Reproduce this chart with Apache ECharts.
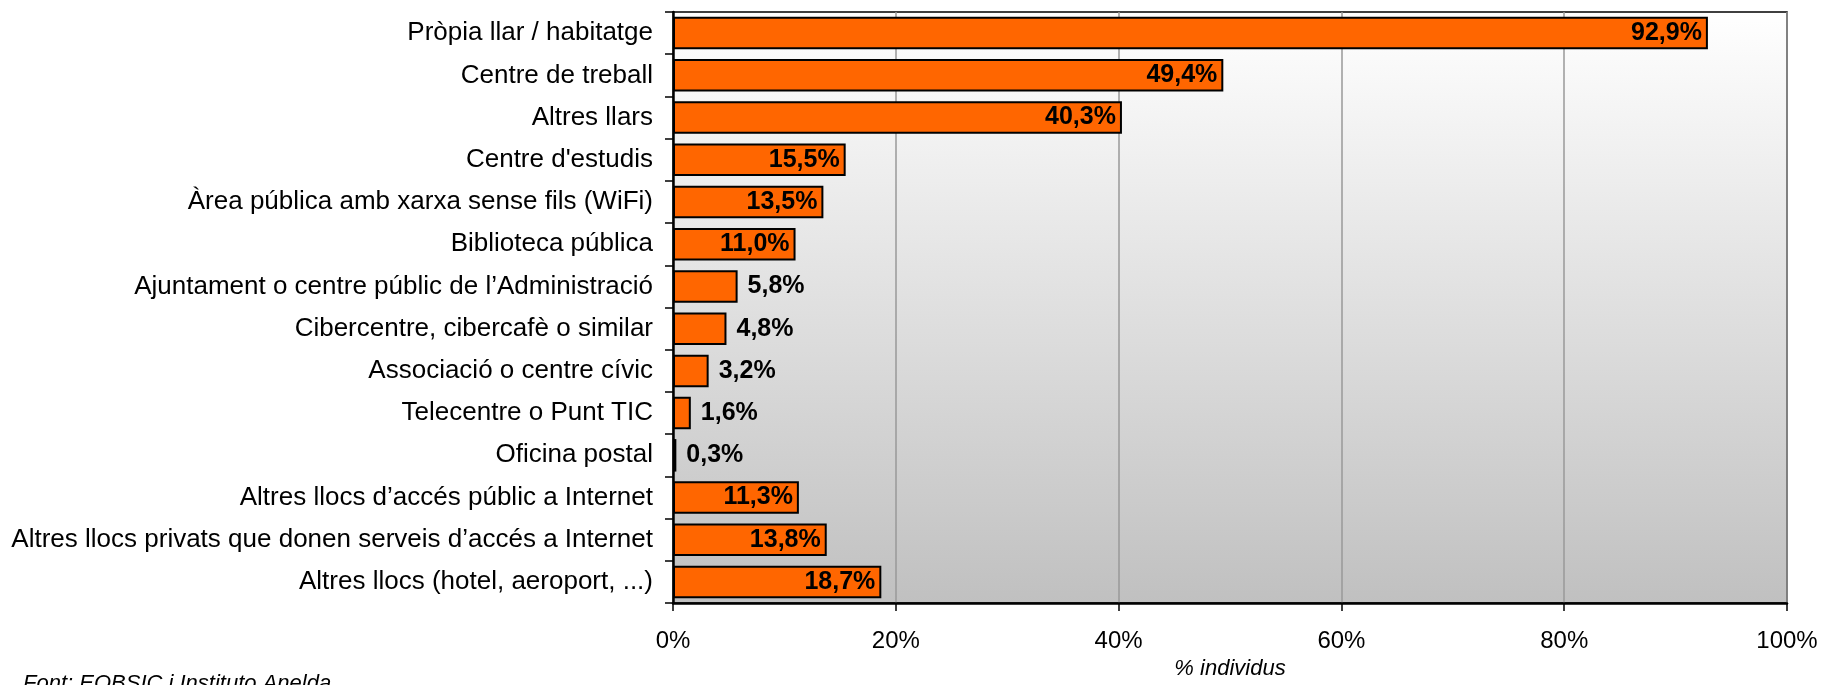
<!DOCTYPE html>
<html>
<head>
<meta charset="utf-8">
<script src="https://cdn.jsdelivr.net/npm/echarts@6/dist/echarts.min.js"></script>
<style>
  html, body { margin: 0; padding: 0; background: #fff; }
  #chart { width: 1823px; height: 685px; }
</style>
</head>
<body>
<div id="chart"></div>
<script>
// categories, top to bottom as in the picture
const categories = [
  'Pròpia llar / habitatge',
  'Centre de treball',
  'Altres llars',
  "Centre d'estudis",
  'Àrea pública amb xarxa sense fils (WiFi)',
  'Biblioteca pública',
  'Ajuntament o centre públic de l’Administració',
  'Cibercentre, cibercafè o similar',
  'Associació o centre cívic',
  'Telecentre o Punt TIC',
  'Oficina postal',
  'Altres llocs d’accés públic a Internet',
  'Altres llocs privats que donen serveis d’accés a Internet',
  'Altres llocs (hotel, aeroport, ...)'
];
const values = [92.9, 49.4, 40.3, 15.5, 13.5, 11.0, 5.8, 4.8, 3.2, 1.6, 0.3, 11.3, 13.8, 18.7];
const xTicks = [0, 20, 40, 60, 80, 100];

const FONT = '"Liberation Sans", Arial, sans-serif';

const chart = echarts.init(document.getElementById('chart'));

// label inside the bar when it fits, else to the right
const barData = values.map(function (v) {
  const inside = v >= 10;
  return {
    value: v,
    label: {
      position: inside ? 'insideRight' : 'right',
      distance: inside ? 6 : 10
    }
  };
});

const option = {
  animation: false,
  grid: {
    left: 673,
    right: 36,
    top: 12,
    bottom: 64,
    show: true,
    borderColor: '#000',
    borderWidth: 1.5,
    backgroundColor: new echarts.graphic.LinearGradient(0, 0, 0, 1, [
      { offset: 0, color: '#ffffff' },
      { offset: 1, color: '#c0c0c0' }
    ])
  },
  xAxis: {
    type: 'value',
    min: xTicks[0],
    max: xTicks[xTicks.length - 1],
    interval: 20,
    name: '% individus',
    nameLocation: 'middle',
    nameGap: 47,
    nameTextStyle: { fontFamily: FONT, fontSize: 22, fontStyle: 'italic', color: '#000' },
    axisLine: { show: true, lineStyle: { color: '#000', width: 2.5 } },
    axisTick: { show: true, length: 8, lineStyle: { color: '#000', width: 1.5 } },
    axisLabel: {
      margin: 26,
      fontFamily: FONT,
      fontSize: 24,
      color: '#000',
      formatter: '{value}%'
    },
    splitLine: { show: true, lineStyle: { color: '#999', width: 1.5 } }
  },
  yAxis: {
    type: 'category',
    inverse: true,
    data: categories,
    axisLine: { show: true, lineStyle: { color: '#000', width: 2.5 } },
    axisTick: { show: true, length: 8, lineStyle: { color: '#000', width: 1.5 } },
    axisLabel: {
      margin: 20,
      fontFamily: FONT,
      fontSize: 26,
      color: '#000'
    }
  },
  series: [
    {
      type: 'bar',
      data: barData,
      barCategoryGap: '23%',
      itemStyle: { color: '#ff6600', borderColor: '#000', borderWidth: 2 },
      label: {
        show: true,
        fontFamily: FONT,
        fontSize: 25,
        fontWeight: 'bold',
        color: '#000',
        formatter: function (p) {
          return p.value.toFixed(1).replace('.', ',') + '%';
        }
      }
    }
  ],
  graphic: [
    {
      type: 'text',
      left: 23,
      top: 673,
      style: {
        text: 'Font: EOBSIC i Instituto Anelda',
        fontFamily: FONT,
        fontSize: 22,
        fontStyle: 'italic',
        fill: '#000'
      }
    }
  ]
};

chart.setOption(option);
</script>
</body>
</html>
